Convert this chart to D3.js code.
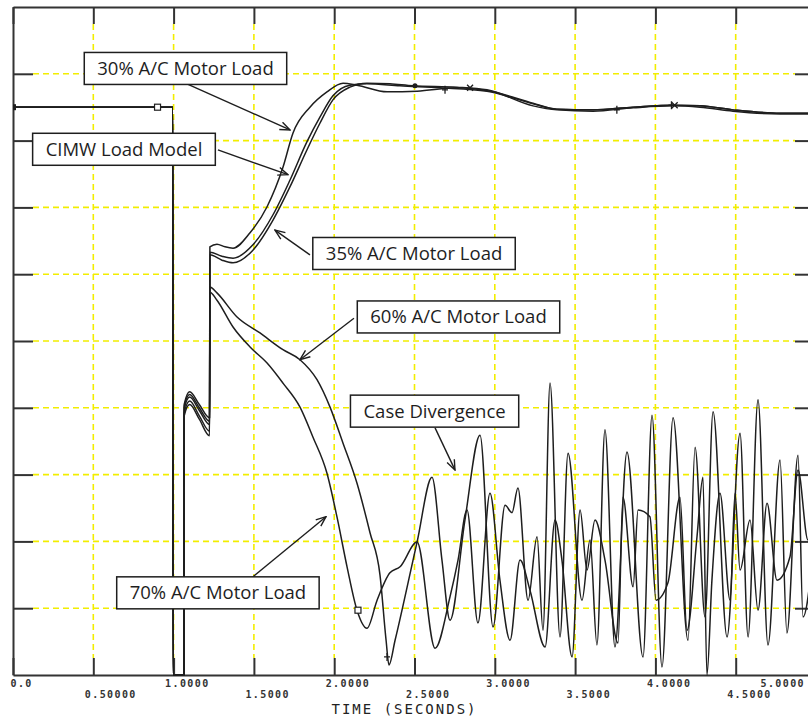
<!DOCTYPE html>
<html>
<head>
<meta charset="utf-8">
<script src="https://cdn.jsdelivr.net/npm/d3@7"></script>
<style>
  body { margin: 0; background: #fff; }
  #graphicContainer { width: 808px; height: 719px; }
</style>
</head>
<body>
<div id="graphicContainer"></div>
<script>
// time axis
const timeTicks = [0, 0.5, 1, 1.5, 2, 2.5, 3, 3.5, 4, 4.5, 5];
const timeLabels = ['0.0', '0.50000', '1.0000', '1.5000', '2.0000', '2.5000', '3.0000', '3.5000', '4.0000', '4.5000', '5.0000'];
const voltTicks = [0.1, 0.2, 0.3, 0.4, 0.5, 0.6, 0.7, 0.8, 0.9];

// [time, voltage]
const preFault = [[0, 0.85], [0.995, 0.85], [0.997, 0], [1.065, 0]];

const load30 = [[1.066, 0.405], [1.10, 0.424], [1.16, 0.405], [1.224, 0.385],
  [1.226, 0.641], [1.270, 0.645], [1.320, 0.641], [1.370, 0.639], [1.476, 0.662], [1.582, 0.701],
  [1.681, 0.760], [1.743, 0.811], [1.849, 0.850], [1.955, 0.873], [2.055, 0.886], [2.142, 0.883],
  [2.329, 0.873], [2.516, 0.874], [2.765, 0.879], [2.989, 0.873], [3.238, 0.856], [3.387, 0.847],
  [3.611, 0.846], [3.861, 0.850], [4.110, 0.853], [4.278, 0.852], [4.483, 0.846], [4.776, 0.841], [5.0, 0.841]];

const cimw = [[1.066, 0.402], [1.10, 0.420], [1.16, 0.400], [1.224, 0.380],
  [1.226, 0.633], [1.301, 0.627], [1.370, 0.624], [1.494, 0.644], [1.619, 0.689], [1.725, 0.741],
  [1.830, 0.798], [1.911, 0.835], [1.992, 0.867], [2.098, 0.883], [2.204, 0.885], [2.409, 0.882],
  [2.659, 0.879], [2.951, 0.874], [3.238, 0.855], [3.387, 0.847], [3.611, 0.846], [3.861, 0.850],
  [4.110, 0.853], [4.278, 0.852], [4.483, 0.846], [4.776, 0.841], [5.0, 0.841]];

const load35 = [[1.066, 0.398], [1.10, 0.416], [1.16, 0.396], [1.224, 0.375],
  [1.226, 0.629], [1.301, 0.621], [1.370, 0.617], [1.494, 0.636], [1.619, 0.681], [1.725, 0.731],
  [1.830, 0.786], [1.911, 0.826], [1.992, 0.861], [2.098, 0.880], [2.204, 0.886], [2.347, 0.885],
  [2.491, 0.882], [2.765, 0.880], [2.951, 0.876], [3.238, 0.852], [3.387, 0.846], [3.611, 0.844],
  [3.861, 0.849], [4.110, 0.852], [4.278, 0.850], [4.483, 0.844], [4.776, 0.840], [5.0, 0.840]];

const load60 = [[1.066, 0.392], [1.10, 0.410], [1.16, 0.388], [1.224, 0.365],
  [1.226, 0.581], [1.270, 0.572], [1.395, 0.536], [1.538, 0.512], [1.681, 0.487], [1.787, 0.472],
  [1.893, 0.442], [1.974, 0.401], [2.055, 0.347], [2.142, 0.287], [2.223, 0.213], [2.285, 0.150],
  [2.323, 0.052], [2.341, 0.015], [2.379, 0.052], [2.516, 0.199], [2.609, 0.296], [2.671, 0.172],
  [2.721, 0.082], [2.814, 0.232], [2.908, 0.359], [2.989, 0.072], [3.064, 0.254], [3.107, 0.243],
  [3.144, 0.280], [3.207, 0.112], [3.263, 0.207], [3.300, 0.067], [3.344, 0.437], [3.406, 0.057],
  [3.456, 0.332], [3.543, 0.112], [3.593, 0.202], [3.636, 0.045], [3.686, 0.367], [3.748, 0.042],
  [3.823, 0.334], [3.923, 0.027], [3.979, 0.389], [4.041, 0.012], [4.110, 0.385], [4.203, 0.052],
  [4.247, 0.341], [4.309, 0.087], [4.359, 0.394], [4.446, 0.057], [4.527, 0.362], [4.577, 0.057],
  [4.639, 0.412], [4.701, 0.045], [4.776, 0.322], [4.819, 0.063], [4.888, 0.329], [4.919, 0.087], [5.0, 0.232]];

const load70 = [[1.066, 0.388], [1.10, 0.405], [1.16, 0.383], [1.224, 0.358],
  [1.226, 0.573], [1.270, 0.561], [1.370, 0.521], [1.476, 0.491], [1.582, 0.467], [1.681, 0.437],
  [1.787, 0.401], [1.868, 0.356], [1.955, 0.302], [2.017, 0.237], [2.080, 0.162], [2.142, 0.097],
  [2.204, 0.070], [2.267, 0.112], [2.347, 0.153], [2.410, 0.162], [2.516, 0.199], [2.628, 0.040],
  [2.721, 0.117], [2.771, 0.172], [2.827, 0.247], [2.895, 0.078], [2.970, 0.272], [3.032, 0.142],
  [3.095, 0.052], [3.157, 0.172], [3.219, 0.127], [3.313, 0.042], [3.375, 0.232], [3.418, 0.172],
  [3.481, 0.027], [3.531, 0.247], [3.574, 0.157], [3.624, 0.232], [3.686, 0.172], [3.767, 0.048],
  [3.798, 0.266], [3.861, 0.132], [3.892, 0.247], [3.966, 0.237], [4.004, 0.112], [4.078, 0.138],
  [4.153, 0.266], [4.197, 0.067], [4.259, 0.207], [4.296, 0.296], [4.321, 0.0], [4.352, 0.142],
  [4.402, 0.272], [4.465, 0.112], [4.496, 0.272], [4.527, 0.157], [4.589, 0.232], [4.639, 0.097],
  [4.695, 0.257], [4.757, 0.142], [4.838, 0.177], [4.888, 0.307], [4.950, 0.202], [5.0, 0.262]];

const seriesList = [load30, cimw, load35, load60, load70];

// plot symbols
const markFilledSquare = [[0, 0.85]];
const markOpenSquare = [[0.9, 0.85], [2.148, 0.097]];
const markPlus = [[2.329, 0.027], [2.690, 0.876], [3.76, 0.846], [4.10, 0.853]];
const markCross = [[2.846, 0.879], [4.12, 0.853]];
const markDot = [[2.503, 0.882]];

// call-outs
const noteText = ['30% A/C Motor Load', 'CIMW Load Model', '35% A/C Motor Load', '60% A/C Motor Load', 'Case Divergence', '70% A/C Motor Load'];
const noteBox = [[1.074, 0.908], [0.691, 0.787], [2.497, 0.631], [2.774, 0.536], [2.625, 0.395], [1.276, 0.123]];
const noteFrom = [[1.083, 0.885], [1.276, 0.786], [1.849, 0.629], [2.123, 0.534], [2.628, 0.370], [1.494, 0.147]];
const noteTip = [[1.725, 0.816], [1.712, 0.749], [1.631, 0.666], [1.787, 0.472], [2.752, 0.307], [1.949, 0.237]];

const Width = 808, Height = 719;
const Margin = { t: 7, l: 13, b: 44 };
const lineColor = '#1e1e1e';
const gridColor = '#f2ee00';

const x = d3.scaleLinear().domain([0, 5]).range([Margin.l, 816]);
const y = d3.scaleLinear().domain([0, 1]).range([Height - Margin.b, Margin.t]);

const svg = d3.select('#graphicContainer').append('svg')
  .attr('width', Width)
  .attr('height', Height);

svg.append('defs').append('clipPath').attr('id', 'plotClip')
  .append('rect')
  .attr('x', Margin.l).attr('y', Margin.t)
  .attr('width', Width - Margin.l).attr('height', y(0) - Margin.t + 1);

svg.select('defs').append('marker')
  .attr('id', 'arrowHead')
  .attr('viewBox', '0 0 12 10')
  .attr('refX', 11).attr('refY', 5)
  .attr('markerWidth', 12).attr('markerHeight', 10)
  .attr('markerUnits', 'userSpaceOnUse')
  .attr('orient', 'auto')
  .append('path')
  .attr('d', 'M1,1 L11,5 L1,9')
  .attr('fill', 'none')
  .attr('stroke', lineColor)
  .attr('stroke-width', 1.4);

// yellow dashed grid
const gridG = svg.append('g').attr('class', 'grid');
gridG.selectAll('.vGrid').data(timeTicks.slice(1, -1)).enter()
  .append('line').attr('class', 'vGrid')
  .attr('x1', d => x(d)).attr('x2', d => x(d))
  .attr('y1', y(1) + 17).attr('y2', y(0) - 17);
gridG.selectAll('.hGrid').data(voltTicks).enter()
  .append('line').attr('class', 'hGrid')
  .attr('x1', x(0) + 20).attr('x2', x(5) - 21)
  .attr('y1', d => y(d)).attr('y2', d => y(d));
gridG.selectAll('line')
  .attr('stroke', gridColor)
  .attr('stroke-width', 1.6)
  .attr('stroke-dasharray', '6 4');

// axes / frame
const xAxisB = svg.append('g').attr('class', 'xAxis')
  .attr('transform', `translate(0, ${y(0)})`)
  .call(d3.axisBottom(x).tickValues(timeTicks).tickSizeInner(-17).tickSizeOuter(0)
    .tickFormat((d, i) => timeLabels[i]));
svg.append('g').attr('class', 'xAxisTop')
  .attr('transform', `translate(0, ${y(1)})`)
  .call(d3.axisTop(x).tickValues(timeTicks).tickSizeInner(-17).tickSizeOuter(0).tickFormat(''));
svg.append('g').attr('class', 'yAxis')
  .attr('transform', `translate(${x(0)}, 0)`)
  .call(d3.axisLeft(y).tickValues(voltTicks).tickSizeInner(-20).tickSizeOuter(0).tickFormat(''));
svg.append('g').attr('class', 'yAxisRight')
  .attr('transform', `translate(${x(5)}, 0)`)
  .call(d3.axisRight(y).tickValues(voltTicks).tickSizeInner(-21).tickSizeOuter(0).tickFormat(''));

svg.selectAll('.xAxis path, .xAxisTop path, .yAxis path, .yAxisRight path')
  .attr('stroke', '#333').attr('stroke-width', 2);
svg.selectAll('.xAxis line, .xAxisTop line, .yAxis line, .yAxisRight line')
  .attr('stroke', '#333').attr('stroke-width', 2);

xAxisB.selectAll('text')
  .attr('text-anchor', 'start')
  .attr('dy', 0)
  .attr('x', d => Math.max(10 - x(d), Math.min(-9, Width - 48 - x(d))))
  .attr('y', (d, i) => i % 2 === 0 ? 12 : 23)
  .style('font-family', '"DejaVu Sans Mono", monospace')
  .style('font-weight', 'bold')
  .style('font-size', '10px')
  .style('letter-spacing', '1.4px')
  .attr('fill', '#333');

svg.append('text')
  .attr('x', x(2.5) - 10)
  .attr('y', 714)
  .attr('text-anchor', 'middle')
  .style('font-family', '"DejaVu Sans Mono", monospace')
  .style('font-size', '14px')
  .style('letter-spacing', '2px')
  .attr('fill', '#222')
  .text('TIME (SECONDS)');

// curves
const lineGen = d3.line().x(d => x(d[0])).y(d => y(d[1])).curve(d3.curveMonotoneX);
const curveG = svg.append('g').attr('clip-path', 'url(#plotClip)');
curveG.selectAll('.curve').data(seriesList).enter()
  .append('path').attr('class', 'curve')
  .attr('d', d => lineGen(preFault.concat(d)))
  .attr('fill', 'none')
  .attr('stroke', lineColor)
  .attr('stroke-width', 1.5)
  .attr('stroke-linejoin', 'round');

// symbols
curveG.selectAll('.fSq').data(markFilledSquare).enter().append('rect')
  .attr('x', d => x(d[0]) - 3).attr('y', d => y(d[1]) - 3)
  .attr('width', 6).attr('height', 6).attr('fill', lineColor);
curveG.selectAll('.oSq').data(markOpenSquare).enter().append('rect')
  .attr('x', d => x(d[0]) - 3).attr('y', d => y(d[1]) - 3)
  .attr('width', 6).attr('height', 6).attr('fill', '#fff').attr('stroke', lineColor).attr('stroke-width', 1.2);
curveG.selectAll('.dotM').data(markDot).enter().append('circle')
  .attr('cx', d => x(d[0])).attr('cy', d => y(d[1])).attr('r', 2.5).attr('fill', lineColor);
curveG.selectAll('.plusM').data(markPlus).enter().append('path')
  .attr('d', d => `M${x(d[0]) - 3},${y(d[1])}h6M${x(d[0])},${y(d[1]) - 4}v8`)
  .attr('stroke', lineColor).attr('stroke-width', 1.3);
curveG.selectAll('.crossM').data(markCross).enter().append('path')
  .attr('d', d => `M${x(d[0]) - 3},${y(d[1]) - 3}l6,6M${x(d[0]) - 3},${y(d[1]) + 3}l6,-6`)
  .attr('stroke', lineColor).attr('stroke-width', 1.3);

// call-outs
const noteG = svg.append('g').attr('class', 'notes');
noteG.selectAll('.arrow').data(noteText).enter()
  .append('line').attr('class', 'arrow')
  .attr('x1', (d, i) => x(noteFrom[i][0])).attr('y1', (d, i) => y(noteFrom[i][1]))
  .attr('x2', (d, i) => x(noteTip[i][0])).attr('y2', (d, i) => y(noteTip[i][1]))
  .attr('stroke', lineColor).attr('stroke-width', 1.4)
  .attr('marker-end', 'url(#arrowHead)');

const boxG = noteG.selectAll('.noteBox').data(noteText).enter()
  .append('g').attr('class', 'noteBox')
  .attr('transform', (d, i) => `translate(${x(noteBox[i][0])}, ${y(noteBox[i][1])})`);
boxG.append('rect');
const boxText = boxG.append('text')
  .attr('text-anchor', 'middle')
  .attr('dy', '0.35em')
  .style('font-family', '"Open Sans", sans-serif')
  .style('font-size', '18.5px')
  .attr('fill', '#1e1e1e')
  .text(d => d);
boxText.each(function(d, i) {
  const w = this.getComputedTextLength() + 26;
  d3.select(this.parentNode).select('rect')
    .attr('x', -w / 2).attr('y', -16)
    .attr('width', w).attr('height', 32)
    .attr('fill', '#fff')
    .attr('stroke', lineColor)
    .attr('stroke-width', 1.5);
});
</script>
</body>
</html>
